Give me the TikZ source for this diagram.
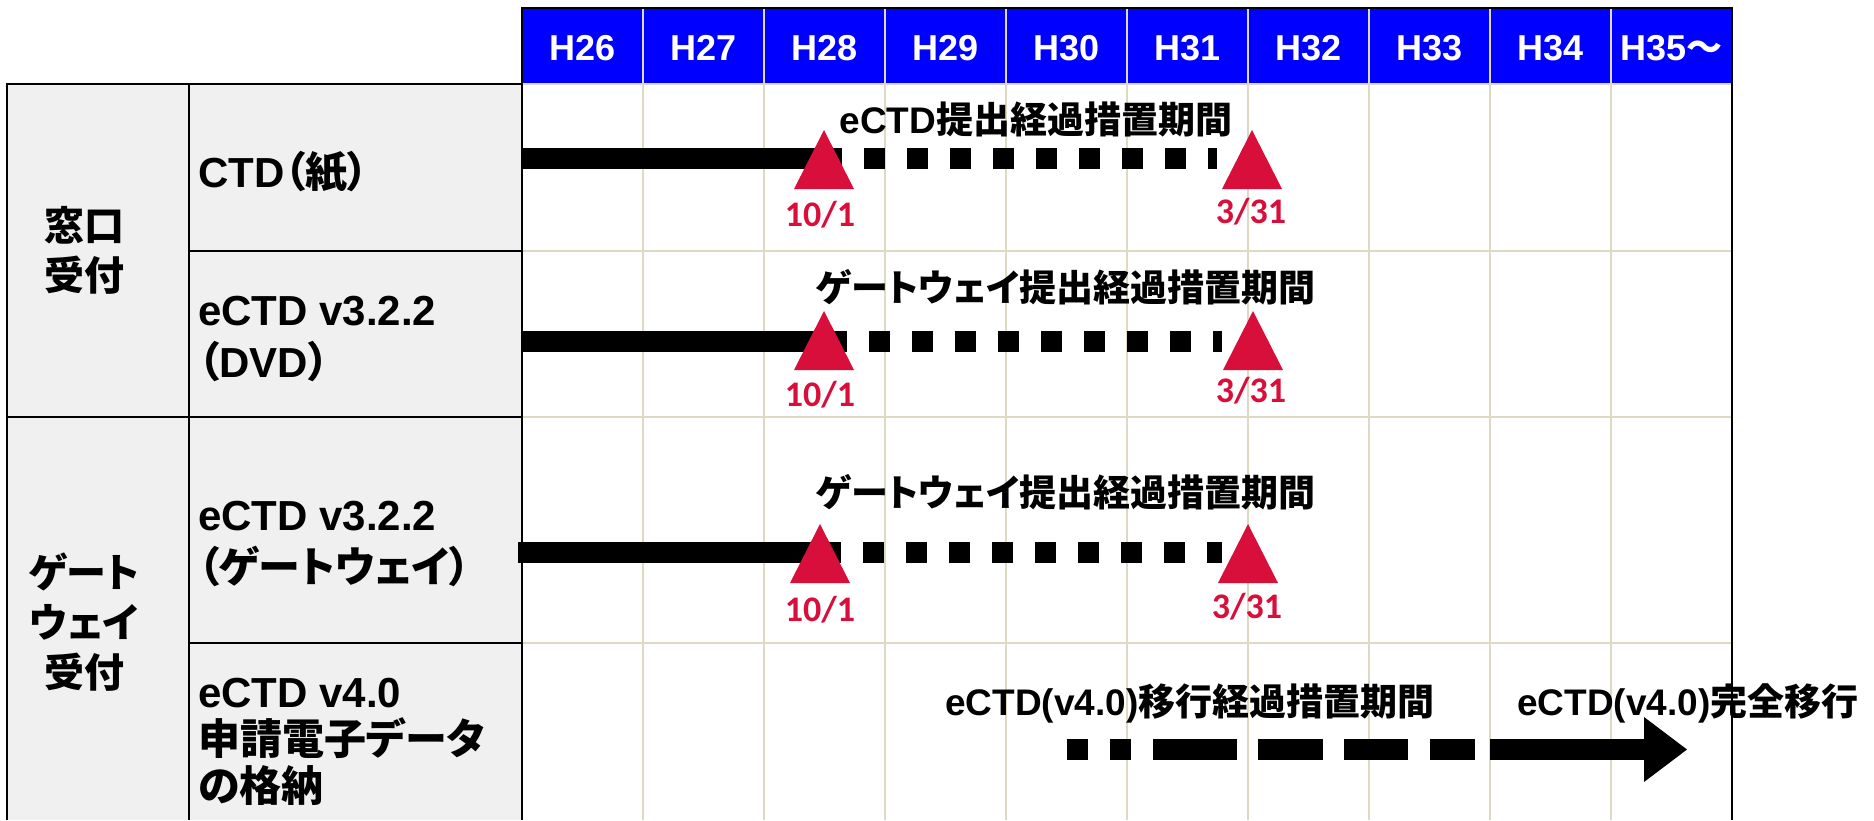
\documentclass[tikz,border=0pt]{standalone}
\usepackage{fontspec}
\setmainfont{Liberation Sans}
\newfontfamily\jpf[RawFeature=+palt]{Noto Sans CJK JP}
\newfontfamily\calf{Carlito}
\newcommand\jp[1]{{\jpf #1}}
\definecolor{hblue}{RGB}{0,0,255}
\definecolor{gridc}{RGB}{221,217,195}
\definecolor{cellgray}{RGB}{240,240,240}
\definecolor{redmark}{RGB}{215,15,58}
\newcommand\marktri[3]{\fill[redmark] (#1,#2) coordinate (#3) -- ++(-30,59) -- ++(60,0) -- cycle;}
\begin{document}
\begin{tikzpicture}[x=1pt,y=-1pt,
  hdr/.style={font=\fontsize{36}{43}\selectfont\bfseries, text=white, anchor=base, inner sep=0pt},
  lbl/.style={font=\fontsize{42}{52}\selectfont\bfseries, anchor=base west, align=left, inner sep=0pt},
  grp/.style={font=\fontsize{40}{50}\selectfont\bfseries, anchor=base, align=center, inner sep=0pt},
  note/.style={font=\fontsize{37}{44}\selectfont\bfseries, anchor=base, inner sep=0pt},
  datel/.style={font=\calf\fontsize{36}{43}\selectfont\bfseries, text=redmark, anchor=base, inner sep=0pt},
  bar/.style={line width=21pt},
  dots/.style={line width=21pt, dash pattern=on 21pt off 22pt},
  gridline/.style={draw=gridc, line width=2.5pt},
  rule/.style={draw=black, line width=2.5pt}
]
\useasboundingbox (0,0) rectangle (1874,820);
% fills
\fill[cellgray] (7,84) rectangle (522,820);
\fill[hblue] (522,8) rectangle (1732,84);
% grid
\foreach \x in {643,764,885,1006,1127,1248,1369,1490,1611} \draw[gridline] (\x,8) -- (\x,820);
\foreach \y in {84,251,417,643} \draw[gridline] (522,\y) -- (1732,\y);
% table rules
\draw[rule] (7,820) -- (7,84) -- (522,84);
\draw[rule] (189,84) -- (189,820);
\draw[rule] (189,251) -- (522,251);
\draw[rule] (7,417) -- (522,417);
\draw[rule] (189,643) -- (522,643);
\draw[rule] (522,820) -- (522,8) -- (1732,8) -- (1732,820);
% header
\node[hdr] (h26) at (582.5,60) {H26};
\node[hdr] (h27) at (703.5,60) {H27};
\node[hdr] (h28) at (824.5,60) {H28};
\node[hdr] (h29) at (945.5,60) {H29};
\node[hdr] (h30) at (1066.5,60) {H30};
\node[hdr] (h31) at (1187.5,60) {H31};
\node[hdr] (h32) at (1308.5,60) {H32};
\node[hdr] (h33) at (1429.5,60) {H33};
\node[hdr] (h34) at (1550.5,60) {H34};
\node[hdr] (h35) at (1671.5,60) {H35\jp{～}};
% left labels (multi-line nodes: base = last line)
\node[grp] (g1) at (84,290) {\jp{窓口}\\\jp{受付}};
\node[grp] (g2) at (84,687) {\jp{ゲート}\\\jp{ウェイ}\\\jp{受付}};
\node[lbl] (c1) at (198,187) {CTD\jp{（紙）}};
\node[lbl] (c2) at (198,377) {eCTD v3.2.2\\\jp{（}DVD\jp{）}};
\node[lbl] (c3) at (198,582) {eCTD v3.2.2\\\jp{（ゲートウェイ）}};
\node[lbl, font=\fontsize{42}{47}\selectfont\bfseries] (c4) at (198,801) {eCTD v4.0\\\jp{申請電子データ}\\\jp{の格納}};
% bars
\coordinate (b1s) at (522,158.5); \coordinate (b1m) at (821,158.5); \coordinate (b1e) at (1217,158.5);
\coordinate (b2s) at (522,341); \coordinate (b2m) at (826,341); \coordinate (b2e) at (1222,341);
\coordinate (b3s) at (518,552.5); \coordinate (b3m) at (820,552.5); \coordinate (b3e) at (1222,552.5);
\draw[bar] (b1s) -- (b1m); \draw[dots] (b1m) -- (b1e);
\draw[bar] (b2s) -- (b2m); \draw[dots] (b2m) -- (b2e);
\draw[bar] (b3s) -- (b3m); \draw[dots] (b3m) -- (b3e);
% triangles
\marktri{824}{130}{t1a} \marktri{1252}{130}{t1b}
\marktri{824}{311}{t2a} \marktri{1253}{311}{t2b}
\marktri{820}{524}{t3a} \marktri{1248}{524}{t3b}
% v4 arrow
\coordinate (v4a) at (1067,749.5); \coordinate (v4b) at (1475,749.5);
\coordinate (v4c) at (1490,749.5); \coordinate (v4d) at (1645,749.5);
\coordinate (v4tip) at (1687,749.5);
\draw[line width=21pt, dash pattern=on 21pt off 22pt on 21pt off 22pt on 84pt off 21pt on 65pt off 21pt on 64pt off 22pt on 45pt off 15pt] (v4a) -- (v4b);
\draw[bar] (v4c) -- (v4d);
\fill (1644,717) -- (v4tip) -- (1644,782) -- cycle;
% notes
\node[note] (n1) at (1036,133) {eCTD\jp{提出経過措置期間}};
\node[note] (n2) at (1066,301) {\jp{ゲートウェイ提出経過措置期間}};
\node[note] (n3) at (1066,506) {\jp{ゲートウェイ提出経過措置期間}};
\node[note] (n4) at (1190,715) {eCTD(v4.0)\jp{移行経過措置期間}};
\node[note] (n5) at (1688,715) {eCTD(v4.0)\jp{完全移行}};
% dates
\node[datel] (d1a) at (820,226) {10/1};
\node[datel] (d1b) at (1251,223) {3/31};
\node[datel] (d2a) at (820,406) {10/1};
\node[datel] (d2b) at (1251,402) {3/31};
\node[datel] (d3a) at (820,621) {10/1};
\node[datel] (d3b) at (1247,618) {3/31};
\end{tikzpicture}
\end{document}
